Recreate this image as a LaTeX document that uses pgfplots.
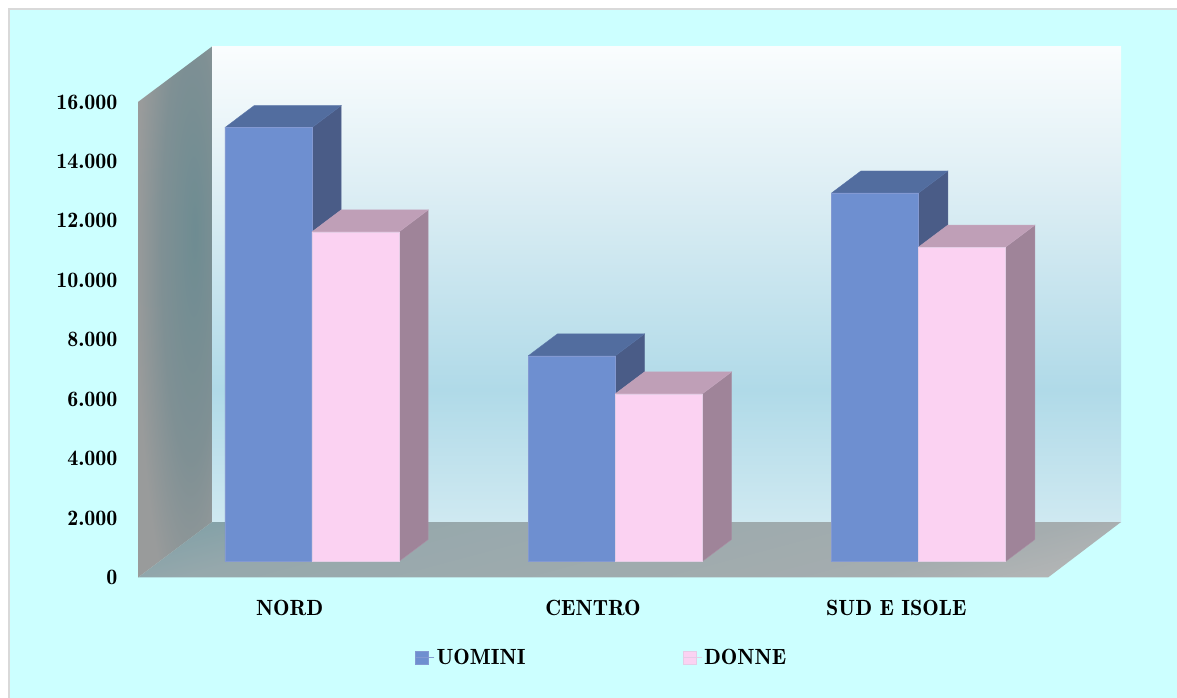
\documentclass[border=0pt]{standalone}
\usepackage{pgfplots}
\usepackage{pgfplotstable}
\pgfplotsset{compat=1.18}

\definecolor{pagebg}{HTML}{CCFFFF}
\definecolor{frameline}{HTML}{D9D9D9}
\definecolor{menfront}{HTML}{6E8FD0}
\definecolor{menside}{HTML}{4A5C87}
\definecolor{mentop}{HTML}{526D9F}
\definecolor{menedge}{HTML}{8399D2}
\definecolor{womenfront}{HTML}{FBD2F2}
\definecolor{womenside}{HTML}{9F8499}
\definecolor{womentop}{HTML}{BF9FB7}
\definecolor{womenedge}{HTML}{E5CDE6}
\definecolor{wallA}{HTML}{FAFDFE}
\definecolor{wallB}{HTML}{DDEEF4}
\definecolor{wallC}{HTML}{B0DAE8}
\definecolor{wallD}{HTML}{CFE9F1}
\definecolor{floorA}{HTML}{7D9FA6}
\definecolor{floorB}{HTML}{A5ADAF}
\definecolor{floorC}{HTML}{96A8AC}
\definecolor{floorD}{HTML}{B8B8B8}
\definecolor{sideA}{HTML}{6E8C92}
\definecolor{sideB}{HTML}{7F9094}
\definecolor{sideC}{HTML}{999B9B}

% Back wall, floor and side wall gradients
\pgfdeclareverticalshading{backwall}{100bp}{
  color(0bp)=(wallD); color(25bp)=(wallD); color(38.9bp)=(wallC);
  color(60bp)=(wallB); color(75bp)=(wallA); color(100bp)=(wallA)}
\pgfdeclareverticalshading{floorplane}{100bp}{
  color(0bp)=(floorD); color(19.4bp)=(floorD); color(32.3bp)=(floorB);
  color(67.7bp)=(floorC); color(80.6bp)=(floorA); color(100bp)=(floorA)}
\pgfdeclareradialshading{sidewall}{\pgfpoint{13.5bp}{7.7bp}}{
  color(0bp)=(sideA); color(20bp)=(sideB); color(35bp)=(sideC); color(100bp)=(sideC)}

\pgfplotstableread{
x uomini donne
0 14600 11090
1 6920 5640
2 12400 10580
}\barvalues

% Top and right faces of one bar: row, column, left edge, side, top, edge colours
\newcommand{\barfaces}[6]{%
  \pgfplotstablegetelem{#1}{#2}\of\barvalues
  \pgfmathsetmacro{\val}{\pgfplotsretval}%
  \pgfmathsetmacro{\xl}{#1+(#3)}%
  \pgfmathsetmacro{\xr}{\xl+\barw}%
  \pgfmathsetmacro{\xlb}{\xl+\depthx}%
  \pgfmathsetmacro{\xrb}{\xr+\depthx}%
  \pgfmathsetmacro{\valb}{\val+\depthy}%
  \addplot[forget plot,fill=#4,draw=#4!85!#6,line width=0.4pt] coordinates
    {(\xr,0) (\xrb,\depthy) (\xrb,\valb) (\xr,\val) (\xr,0)};
  \addplot[forget plot,fill=#5,draw=#5!85!#6,line width=0.4pt] coordinates
    {(\xl,\val) (\xlb,\valb) (\xrb,\valb) (\xr,\val) (\xl,\val)};
}
\def\barw{0.2868}
\def\depthx{0.0966}
\def\depthy{740}
\newcommand{\chartfont}{\fontsize{22}{24}\fontseries{b}\selectfont}

\begin{document}
\begin{tikzpicture}[x=1pt,y=1pt]
\path[use as bounding box] (0,0) rectangle (1177,698);
\fill[white] (0,0) rectangle (1177,698);
\fill[pagebg] (8.5,-1) rectangle (1178,689);
\draw[frameline,line width=2pt] (8.5,-1) -- (8.5,689) -- (1178,689);

% Box of the chart: walls, floor and the value and category labels
\begin{axis}[
  at={(138pt,120.5pt)},anchor=south west,
  scale only axis,width=910pt,height=475.5pt,
  xmin=-0.5,xmax=2.5,ymin=0,ymax=16000,clip=false,
  axis line style={draw=none},major tick length=0pt,
  xtick={0,1,2},xticklabels={NORD,CENTRO,SUD E ISOLE},
  ytick={0,2000,...,16000},scaled y ticks=false,
  /pgf/number format/.cd,1000 sep={.},assume math mode=true,
  /pgfplots/.cd,
  tick label style={font=\chartfont},
  yticklabel style={xshift=-17pt},
  xticklabel style={yshift=-19pt},
]
\addplot[shading=backwall,draw=none] coordinates
  {(-0.256,1867) (2.7407,1867) (2.7407,17867) (-0.256,17867) (-0.256,1867)};
\addplot[shading=floorplane,shading angle=15,draw=none] coordinates
  {(-0.5,0) (2.5,0) (2.7407,1867) (-0.256,1867) (-0.5,0)};
\addplot[shading=sidewall,draw=none] coordinates
  {(-0.5,0) (-0.256,1867) (-0.256,17867) (-0.5,16000) (-0.5,0)};
\end{axis}

% Bars stand on a plane set back from the front edge of the floor
\begin{axis}[
  at={(160.2pt,136.5pt)},anchor=south west,
  scale only axis,width=910pt,height=475.5pt,
  xmin=-0.5,xmax=2.5,ymin=0,ymax=16000,clip=false,
  axis line style={draw=none},major tick length=0pt,
  xtick=\empty,ytick=\empty,
  legend columns=2,
  legend style={at={(0.2800,-0.2019)},anchor=west,draw=none,fill=none,
    inner sep=0pt,outer sep=0pt,
    font=\chartfont,
    /tikz/column 2/.style={column sep=155pt}},
  legend image code/.code={\fill[#1] (0pt,-6.5pt) rectangle (13pt,6.5pt);
    \path (0pt,0pt) -- (19pt,0pt);},
]
\barfaces{0}{uomini}{-0.2868}{menside}{mentop}{menedge}
\barfaces{1}{uomini}{-0.2868}{menside}{mentop}{menedge}
\barfaces{2}{uomini}{-0.2868}{menside}{mentop}{menedge}
\addplot[ybar,bar width=87pt,bar shift=-43.5pt,fill=menfront,draw=menedge,line width=0.5pt]
  table[x=x,y=uomini]{\barvalues};
\addlegendentry{UOMINI}
\barfaces{0}{donne}{0}{womenside}{womentop}{womenedge}
\barfaces{1}{donne}{0}{womenside}{womentop}{womenedge}
\barfaces{2}{donne}{0}{womenside}{womentop}{womenedge}
\addplot[ybar,bar width=87pt,bar shift=43.5pt,fill=womenfront,draw=womenedge,line width=0.5pt]
  table[x=x,y=donne]{\barvalues};
\addlegendentry{DONNE}
\end{axis}
\end{tikzpicture}
\end{document}
